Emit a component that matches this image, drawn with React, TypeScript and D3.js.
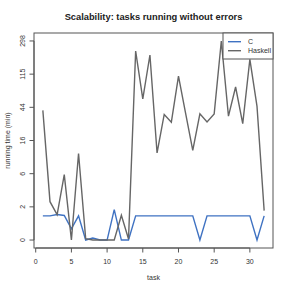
import * as d3 from 'd3'

// task numbers and running times (minutes)
const tasks = [1, 2, 3, 4, 5, 6, 7, 8, 9, 10, 11, 12, 13, 14, 15, 16, 17, 18, 19, 20, 21, 22, 23, 24, 25, 26, 27, 28, 29, 30, 31, 32]
const cTimes = [1, 1, 1.08, 1.02, 0.38, 1, 0, 0.06, 0, 0, 1.39, 0, 0, 1, 1, 1, 1, 1, 1, 1, 1, 1, 0, 1, 1, 1, 1, 1, 1, 1, 0, 1]
const haskellTimes = [40, 2.0, 1.07, 5.5, 0, 10.9, 0.04, 0, 0, 0, 0, 1.03, 0.03, 223, 56, 199, 11.1, 35.5, 28.2, 108, 36.5, 12, 36.2, 28.5, 36, 298, 33.7, 79, 27, 176, 45, 1.32]
const xTicks = [0, 5, 10, 15, 20, 25, 30]
const yTickLabels = [0, 2, 6, 16, 44, 115, 298]
const seriesNames = ['C', 'Haskell']

const W = 291
const H = 291
const MARGIN = { LEFT: 34, RIGHT: 18, TOP: 33, BOTTOM: 43 }
const FONT = '"Liberation Sans", Arial, Helvetica, sans-serif'
const colors = ['#3f72c2', '#666666']
const axisColor = '#555'

export default function App() {
  const tMax = Math.log1p(d3.max(haskellTimes) as number)
  const xPad = (tasks[tasks.length - 1] - tasks[0]) * 0.04
  const x = d3.scaleLinear()
    .domain([tasks[0] - xPad, tasks[tasks.length - 1] + xPad])
    .range([MARGIN.LEFT, W - MARGIN.RIGHT])
  const y = d3.scaleLinear()
    .domain([-0.04 * tMax, 1.04 * tMax])
    .range([H - MARGIN.BOTTOM, MARGIN.TOP])

  const line = d3.line<number>()
    .x((d, i) => x(tasks[i]))
    .y((d) => y(Math.log1p(d)))

  const series = [cTimes, haskellTimes]
  const yTickPos = yTickLabels.map((d, i) => (i * tMax) / (yTickLabels.length - 1))

  const left = MARGIN.LEFT
  const right = W - MARGIN.RIGHT
  const top = MARGIN.TOP
  const bottom = H - MARGIN.BOTTOM
  const legendX = 223

  return (
    <svg width={W} height={H} style={{ position: 'absolute', left: 0, top: 0, background: '#fff' }} fontFamily={FONT}>
      <text x={(left + right) / 2} y={20} textAnchor="middle" fontSize={9.3} fontWeight="bold" fill="#222">
        Scalability: tasks running without errors
      </text>

      {series.map((s, i) => (
        <path key={i} d={line(s) || ''} fill="none" stroke={colors[i]} strokeWidth={1.4} strokeLinejoin="miter" />
      ))}

      <rect x={left} y={top} width={right - left} height={bottom - top} fill="none" stroke={axisColor} strokeWidth={1} />

      {/* x axis */}
      <line x1={x(xTicks[0])} x2={x(xTicks[xTicks.length - 1])} y1={bottom} y2={bottom} stroke={axisColor} />
      {xTicks.map((t) => (
        <g key={t}>
          <line x1={x(t)} x2={x(t)} y1={bottom} y2={bottom + 4.5} stroke={axisColor} />
          <text x={x(t)} y={264} textAnchor="middle" fontSize={7} fill="#333">{t}</text>
        </g>
      ))}
      <text x={(left + right) / 2} y={280} textAnchor="middle" fontSize={7} fill="#333">task</text>

      {/* y axis */}
      <line x1={left} x2={left} y1={y(yTickPos[0])} y2={y(yTickPos[yTickPos.length - 1])} stroke={axisColor} />
      {yTickLabels.map((lab, i) => (
        <g key={lab}>
          <line x1={left - 4.5} x2={left} y1={y(yTickPos[i])} y2={y(yTickPos[i])} stroke={axisColor} />
          <text transform={`translate(24.5,${y(yTickPos[i])}) rotate(-90)`} textAnchor="middle" fontSize={7} fill="#333">{lab}</text>
        </g>
      ))}
      <text transform={`translate(10,${(top + bottom) / 2}) rotate(-90)`} textAnchor="middle" fontSize={7} fill="#333">
        running time (min)
      </text>

      {/* legend */}
      <rect x={legendX} y={top} width={right - legendX} height={26} fill="#fff" stroke={axisColor} strokeWidth={1} />
      {seriesNames.map((n, i) => (
        <g key={n}>
          <line x1={legendX + 5} x2={legendX + 18} y1={top + 8.7 + i * 9} y2={top + 8.7 + i * 9} stroke={colors[i]} strokeWidth={1.4} />
          <text x={legendX + 25} y={top + 8.7 + i * 9} dy="0.35em" fontSize={7} fill="#333">{n}</text>
        </g>
      ))}
    </svg>
  )
}
